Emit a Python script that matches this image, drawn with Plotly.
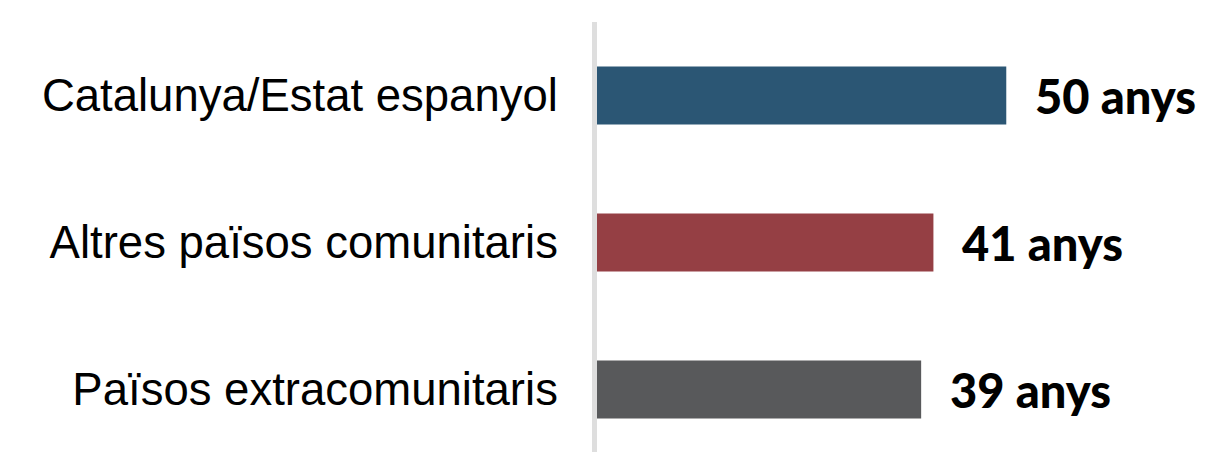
import plotly.graph_objects as go

categories = ["Catalunya/Estat espanyol", "Altres països comunitaris", "Països extracomunitaris"]
values = [50, 41.1, 39.6]
labels = ["50 anys", "41 anys", "39 anys"]
colors = ["#2B5674", "#953F44", "#58595B"]

fig = go.Figure()
fig.add_trace(go.Bar(
    y=categories,
    x=values,
    orientation="h",
    marker=dict(color=colors, line=dict(width=0)),
    hoverinfo="skip",
))

# value labels to the right of each bar
for cat, val, lab in zip(categories, values, labels):
    fig.add_annotation(
        x=val, y=cat,
        text=lab,
        showarrow=False,
        xanchor="left",
        xshift=27,
        font=dict(family="Lato", size=47, color="#000000", weight=900),
    )

# page body adds an 8px offset, so the figure is sized 8px smaller
fig.update_layout(
    width=1198,
    height=444,
    margin=dict(l=589, r=0, t=14, b=0, autoexpand=False),
    plot_bgcolor="white",
    paper_bgcolor="white",
    showlegend=False,
    bargap=0.605,
    xaxis=dict(
        range=[0, 74.4],
        showgrid=False,
        zeroline=False,
        showticklabels=False,
        showline=False,
        automargin=False,
    ),
    yaxis=dict(
        range=[2.425, -0.5],
        showgrid=False,
        zeroline=False,
        showline=True,
        linecolor="#DEDEDE",
        linewidth=5,
        ticks="",
        ticklabelstandoff=25,
        automargin=False,
        tickfont=dict(family="Liberation Sans, Arial", size=45.5, color="#000000"),
    ),
)

fig.write_html("out.html")
